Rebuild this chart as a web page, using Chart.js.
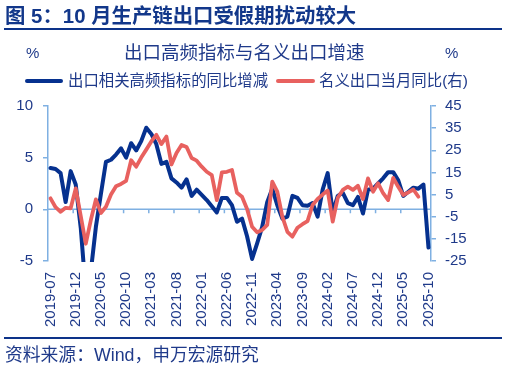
<!DOCTYPE html>
<html>
<head>
<meta charset="utf-8">
<script src="https://cdn.jsdelivr.net/npm/chart.js@4.4.1/dist/chart.umd.min.js"></script>
<style>
  body { margin: 0; background: #fff; }
  #wrap { position: relative; width: 506px; height: 367px; overflow: hidden;
          font-family: "Liberation Sans", Arial, "Noto Sans CJK SC", sans-serif; color: #1f3a8a; }
  #chart { position: absolute; left: 0; top: 0; }
  .abs { position: absolute; white-space: nowrap; line-height: 1; }
  .rule { position: absolute; left: 4px; width: 498px; height: 2px; background: #0d3389; }
  .swatch { position: absolute; height: 4px; border-radius: 2px; }
</style>
</head>
<body>
<div id="wrap">
  <canvas id="chart" width="506" height="367"></canvas>
  <div class="abs" id="fig-title" style="left:5px;top:6px;font-size:20.4px;font-weight:bold;color:#12378a;">图 5：10 月生产链出口受假期扰动较大</div>
  <div class="rule" style="top:28px;"></div>
  <div class="abs" style="left:26px;top:45px;font-size:15px;">%</div>
  <div class="abs" style="left:124px;top:44px;font-size:18.5px;">出口高频指标与名义出口增速</div>
  <div class="abs" style="left:445px;top:45px;font-size:15px;">%</div>
  <div class="swatch" style="left:25px;top:79px;width:38px;background:#06318f;"></div>
  <div class="abs" style="left:68px;top:73px;font-size:15.4px;">出口相关高频指标的同比增减</div>
  <div class="swatch" style="left:276px;top:79px;width:39px;background:#e8615f;"></div>
  <div class="abs" style="left:319px;top:73px;font-size:15.4px;">名义出口当月同比(右)</div>
  <div class="rule" style="top:337px;"></div>
  <div class="abs" style="left:5px;top:347px;font-size:17.8px;">资料来源：Wind，申万宏源研究</div>
</div>
<script>
const months = [
  '2019-07','2019-08','2019-09','2019-10','2019-11','2019-12',
  '2020-01','2020-02','2020-03','2020-04','2020-05','2020-06','2020-07','2020-08','2020-09','2020-10','2020-11','2020-12',
  '2021-01','2021-02','2021-03','2021-04','2021-05','2021-06','2021-07','2021-08','2021-09','2021-10','2021-11','2021-12',
  '2022-01','2022-02','2022-03','2022-04','2022-05','2022-06','2022-07','2022-08','2022-09','2022-10','2022-11','2022-12',
  '2023-01','2023-02','2023-03','2023-04','2023-05','2023-06','2023-07','2023-08','2023-09','2023-10','2023-11','2023-12',
  '2024-01','2024-02','2024-03','2024-04','2024-05','2024-06','2024-07','2024-08','2024-09','2024-10','2024-11','2024-12',
  '2025-01','2025-02','2025-03','2025-04','2025-05','2025-06','2025-07','2025-08','2025-09','2025-10'
];

// 出口相关高频指标的同比增减 (左轴, %)
const highFreq = [
  4.0, 3.9, 3.5, 0.7, 3.7, 2.4, -1.8, -8.0, -6.0, -1.7,
  1.5, 4.6, 4.8, 5.3, 5.9, 5.0, 6.4, 5.7, 6.6, 7.9,
  7.3, 6.3, 4.4, 4.6, 3.0, 2.6, 2.1, 2.9, 1.3, 1.9,
  1.4, 0.9, 0.3, -0.3, 1.1, 1.1, 0.4, -1.2, -0.9, -2.6,
  -4.8, -3.3, -1.7, 0.7, 2.0, 0.4, -0.9, -0.7, 1.3, 1.1,
  0.4, 0.35, 0.6, -0.7, 1.9, 3.5, -0.3, 1.3, 1.6, 0.6,
  0.4, 1.2, -0.4, 1.9, 2.0, 2.5, 3.0, 3.6, 3.6, 2.8,
  1.3, 1.7, 2.1, 2.0, 2.4, -3.7
];

// 名义出口当月同比 (右轴, %)
const exportYoY = [
  3.3, -0.7, -2.8, -1.0, -1.2, 7.8, null, -17.2, -6.5, 2.8,
  -3.3, -0.5, 5.0, 8.8, 9.8, 11.2, 20.5, 17.6, 21.7, 25.3,
  29.0, 32.0, 27.8, 31.2, 18.6, 23.8, 27.4, 26.5, 21.5, 20.3,
  17.6, 15.3, 13.8, 2.5, 15.0, 15.3, 16.1, 5.8, 4.0, -1.5,
  -9.5, -12.0, -11.0, -8.7, 10.8, 6.3, -5.0, -11.8, -14.0, -10.0,
  -8.4, -7.0, 0.3, 3.0, 5.0, 6.8, -7.2, 3.6, 7.1, 8.6,
  7.1, 9.0, 3.0, 12.3, 6.3, 10.1, 5.6, 2.5, 12.5, 8.5,
  4.8, 6.0, 7.3, 4.0, null, null
];

const leftTicks = [-5, 0, 5, 10];
const rightTicks = [-25, -15, -5, 5, 15, 25, 35, 45];
const labelEvery = 5;

const axisColor = '#7fb0e2';
const textColor = '#1f3a8a';
const fontFamily = '"Liberation Sans", Arial, "Noto Sans CJK SC", sans-serif';

// zero line of the left axis, with small ticks every 5 months
const zeroLine = {
  id: 'zeroLine',
  beforeDatasetsDraw(chart) {
    const { ctx, chartArea, scales } = chart;
    const y0 = scales.y.getPixelForValue(0);
    ctx.save();
    ctx.strokeStyle = axisColor;
    ctx.lineWidth = 1.5;
    ctx.beginPath();
    ctx.moveTo(chartArea.left, y0);
    ctx.lineTo(chartArea.right, y0);
    for (let k = labelEvery; k < months.length; k += labelEvery) {
      const x = (scales.x.getPixelForValue(k - 1) + scales.x.getPixelForValue(k)) / 2;
      ctx.moveTo(x, y0);
      ctx.lineTo(x, y0 + 4);
    }
    ctx.stroke();
    ctx.restore();
  }
};

new Chart(document.getElementById('chart'), {
  type: 'line',
  data: {
    labels: months,
    datasets: [
      {
        label: '出口相关高频指标的同比增减',
        data: highFreq,
        yAxisID: 'y',
        borderColor: '#06318f',
        borderWidth: 4,
        pointRadius: 0,
        tension: 0,
        spanGaps: true,
        borderJoinStyle: 'round',
        borderCapStyle: 'round',
        clip: { left: 5, right: 5, top: 5, bottom: 1 },
        order: 2
      },
      {
        label: '名义出口当月同比(右)',
        data: exportYoY,
        yAxisID: 'y1',
        borderColor: '#e8615f',
        borderWidth: 3.8,
        pointRadius: 0,
        tension: 0,
        spanGaps: true,
        borderJoinStyle: 'round',
        borderCapStyle: 'round',
        order: 1
      }
    ]
  },
  options: {
    responsive: false,
    animation: false,
    devicePixelRatio: 1,
    layout: { padding: { top: 106, left: 0, right: 0, bottom: 0 } },
    plugins: {
      legend: { display: false },
      tooltip: { enabled: false },
      title: { display: false }
    },
    scales: {
      x: {
        type: 'category',
        offset: true,
        grid: { display: false, drawTicks: false, offset: true },
        border: { display: false },
        ticks: {
          autoSkip: false,
          maxRotation: 90,
          minRotation: 90,
          padding: 11,
          color: textColor,
          font: { size: 15, family: fontFamily },
          callback: function(value, index) {
            return index % labelEvery === 0 ? months[index] : '';
          }
        },
        afterFit: function(scale) { scale.height = 106; }
      },
      y: {
        position: 'left',
        min: leftTicks[0],
        max: leftTicks[leftTicks.length - 1],
        afterBuildTicks: function(scale) { scale.ticks = leftTicks.map(v => ({ value: v })); },
        grid: { drawOnChartArea: false, color: axisColor, tickLength: 5, lineWidth: 1.5 },
        border: { color: axisColor, width: 1.5 },
        ticks: { padding: 10, color: textColor, font: { size: 15, family: fontFamily } },
        afterFit: function(scale) { scale.width = 48; }
      },
      y1: {
        position: 'right',
        min: rightTicks[0],
        max: rightTicks[rightTicks.length - 1],
        afterBuildTicks: function(scale) { scale.ticks = rightTicks.map(v => ({ value: v })); },
        grid: { drawOnChartArea: false, color: axisColor, tickLength: 5, lineWidth: 1.5 },
        border: { color: axisColor, width: 1.5 },
        ticks: { padding: 9, color: textColor, font: { size: 15, family: fontFamily } },
        afterFit: function(scale) { scale.width = 75; }
      }
    }
  },
  plugins: [zeroLine]
});
</script>
</body>
</html>
